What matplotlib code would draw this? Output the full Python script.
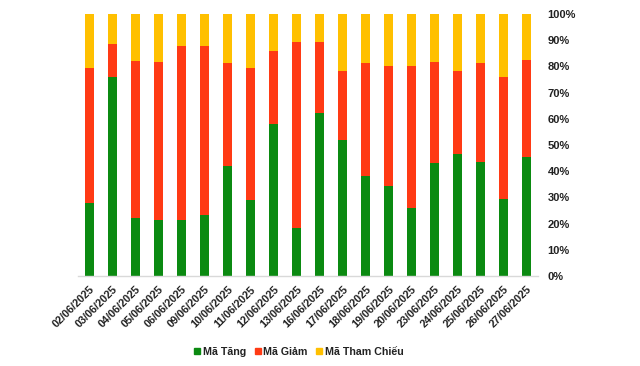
import matplotlib
matplotlib.use("Agg")
import matplotlib.pyplot as plt
import numpy as np
from matplotlib.ticker import FuncFormatter, MultipleLocator
from matplotlib.patches import Patch

dates = ["02/06/2025", "03/06/2025", "04/06/2025", "05/06/2025", "06/06/2025",
         "09/06/2025", "10/06/2025", "11/06/2025", "12/06/2025", "13/06/2025",
         "16/06/2025", "17/06/2025", "18/06/2025", "19/06/2025", "20/06/2025",
         "23/06/2025", "24/06/2025", "25/06/2025", "26/06/2025", "27/06/2025"]
tang = [28.0, 76.0, 22.1, 21.4, 21.4, 23.3, 42.1, 29.0, 58.0, 18.3,
        62.2, 51.9, 38.3, 34.4, 26.1, 43.1, 46.6, 43.5, 29.4, 45.4]
giam = [51.4, 12.5, 60.0, 60.3, 66.4, 64.5, 39.2, 50.4, 27.9, 71.0,
        27.1, 26.3, 43.0, 45.8, 54.1, 38.6, 31.6, 37.8, 46.6, 37.0]
thamchieu = [100 - a - b for a, b in zip(tang, giam)]

plt.rcParams['font.family'] = ['Liberation Sans', 'DejaVu Sans']

fig = plt.figure(figsize=(6.4, 3.66), dpi=100)
ax = fig.add_axes([78/640, (366-276)/366, (538-78)/640, (276-14)/366])

x = np.arange(len(dates))
w = 0.39
c_g, c_r, c_y = "#0B8A11", "#FF3A14", "#FFC000"
ax.bar(x, tang, w, color=c_g, label="Mã Tăng")
ax.bar(x, giam, w, bottom=tang, color=c_r, label="Mã Giảm")
ax.bar(x, thamchieu, w, bottom=np.array(tang) + np.array(giam), color=c_y, label="Mã Tham Chiếu")

ax.set_xlim(-0.5, len(dates) - 0.5)
ax.set_ylim(0, 100)
ax.yaxis.tick_right()
ax.yaxis.set_major_locator(MultipleLocator(10))
ax.yaxis.set_major_formatter(FuncFormatter(lambda v, p: f"{int(v)}%"))
ax.tick_params(axis='y', length=0, pad=7, labelsize=8)
ax.tick_params(axis='x', length=0, pad=6, labelsize=7.8)
ax.set_xticks(x)
ax.set_xticklabels(dates, rotation=45, ha='right', rotation_mode='anchor')
for lab in ax.get_xticklabels() + ax.get_yticklabels():
    lab.set_fontweight('bold')
    lab.set_color('#222222')
for s in ['top', 'left', 'right']:
    ax.spines[s].set_visible(False)
ax.spines['bottom'].set_color('#D9D9D9')
ax.spines['bottom'].set_linewidth(1)

handles = [Patch(color=c_g), Patch(color=c_r), Patch(color=c_y)]
leg = fig.legend(handles, ["Mã Tăng", "Mã Giảm", "Mã Tham Chiếu"], loc='center',
                 bbox_to_anchor=(299/640, 1 - 352/366), ncol=3, frameon=False,
                 handlelength=0.55, handleheight=0.55, handletextpad=0.25, columnspacing=0.8,
                 prop={'size': 7.7, 'weight': 'bold'})
for t in leg.get_texts():
    t.set_color('#222222')

fig.savefig("out.png", dpi=100)
